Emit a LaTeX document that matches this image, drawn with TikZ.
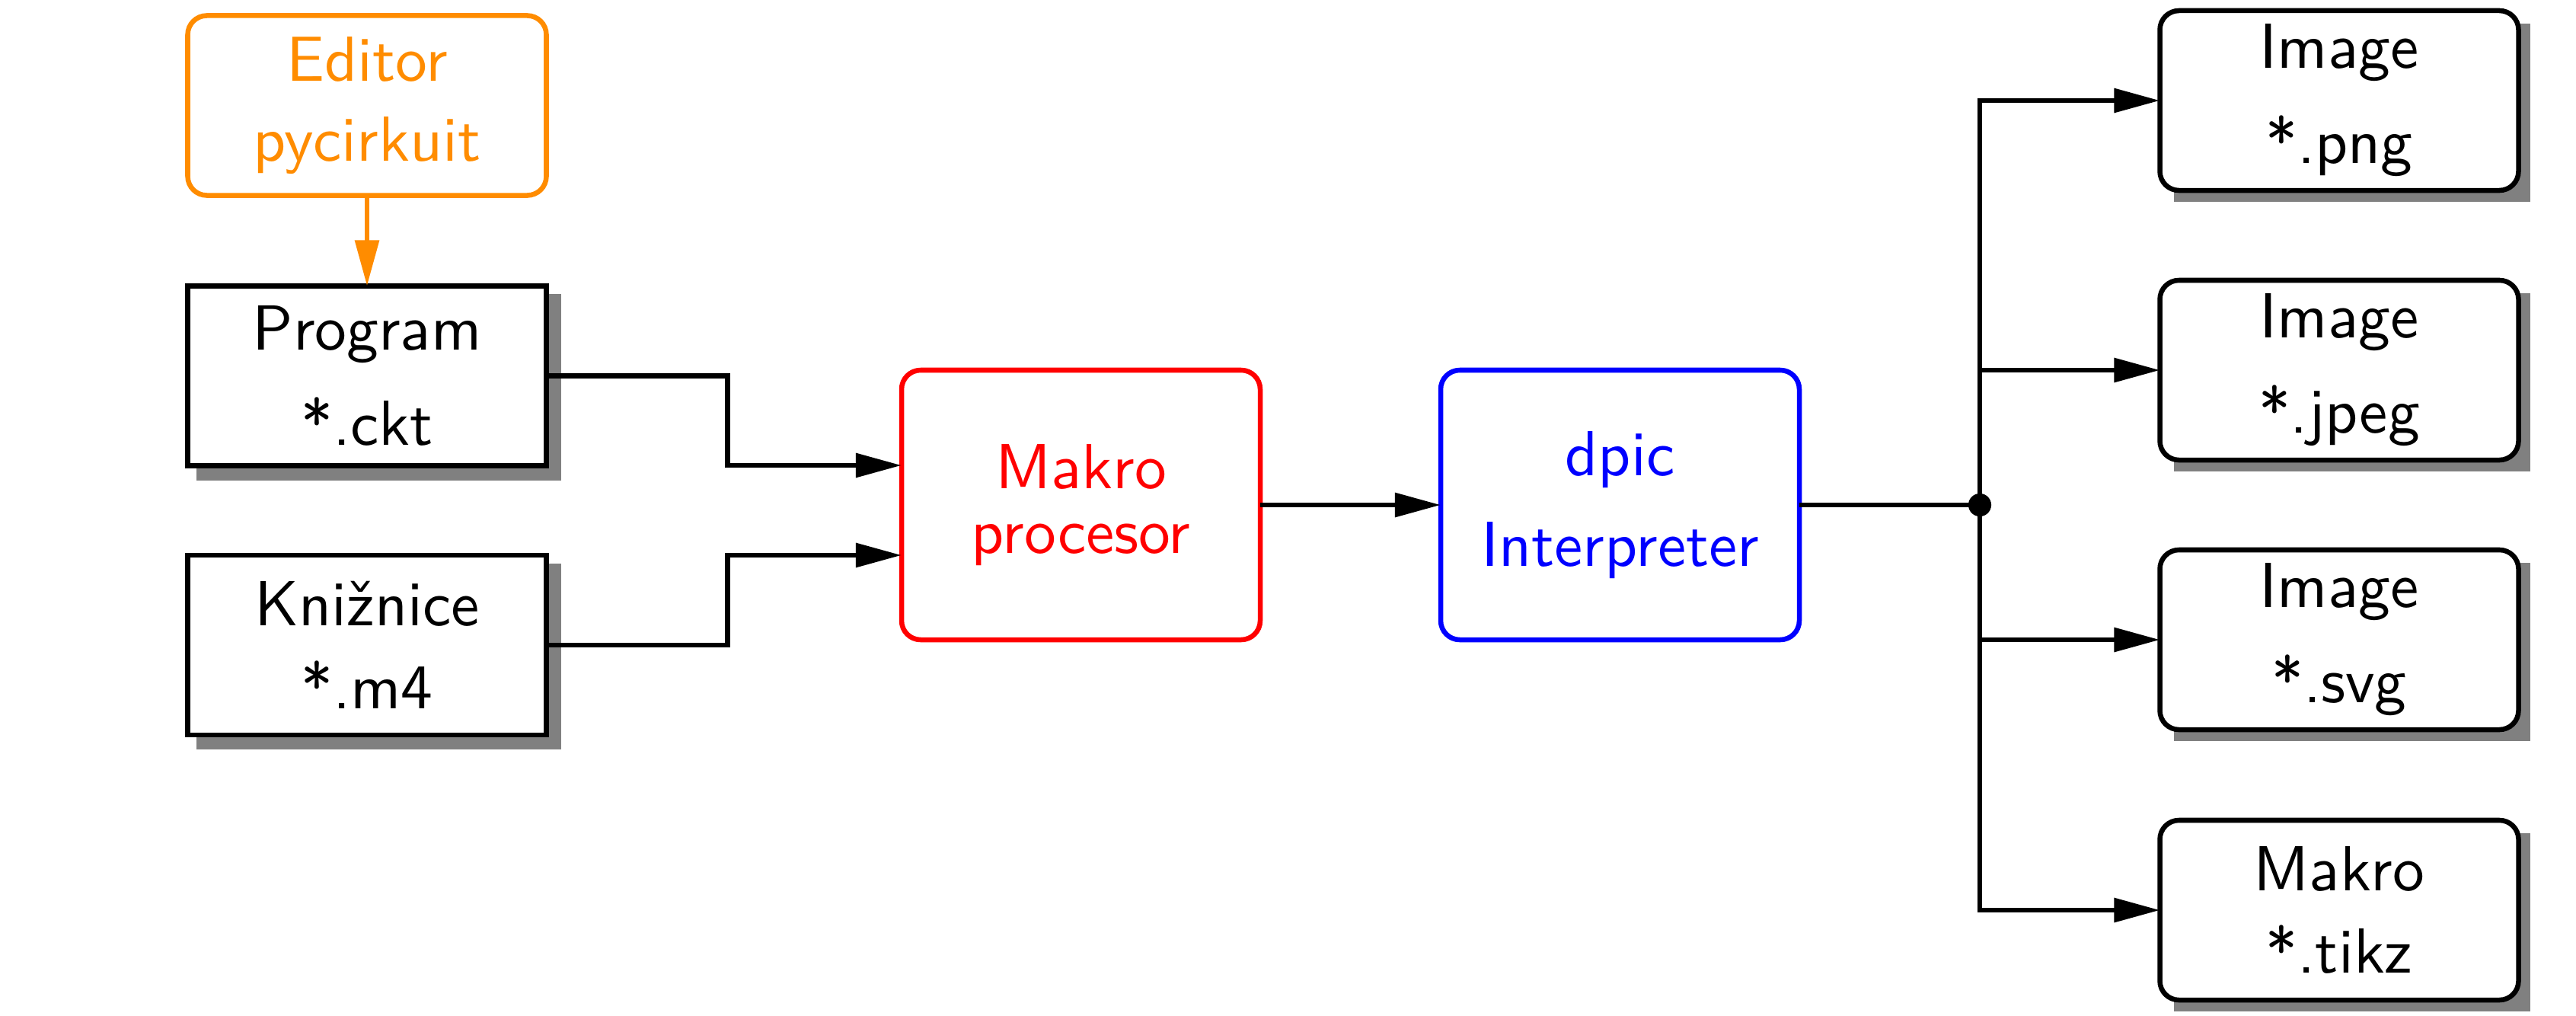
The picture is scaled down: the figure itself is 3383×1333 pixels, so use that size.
\documentclass[tikz,border=0pt]{standalone}
\usepackage{fontspec}
\usetikzlibrary{arrows.meta,backgrounds}
\definecolor{edorange}{RGB}{255,140,0}
\definecolor{shadowgray}{RGB}{128,128,128}
\newcommand\myboxfont{\sffamily\fontsize{10}{0}\selectfont\setlength{\lineskip}{5.4pt}\setlength{\lineskiplimit}{0pt}}
\begin{document}
\begin{tikzpicture}[x=0.1196pt,y=-0.1196pt,
  every node/.style={font=\myboxfont,
    align=center, inner sep=0pt, outer sep=0pt, line width=0.78pt, fill=white},
  sqbox/.style={draw, rectangle, minimum width=56.33pt, minimum height=28.23pt},
  rbox/.style={sqbox, rounded corners=3pt},
  bigbox/.style={draw, rectangle, rounded corners=3pt, minimum width=56.33pt, minimum height=42.34pt},
  conn/.style={draw, line width=0.78pt, -{Triangle[length=7.2pt,width=3.7pt]}},
  wire/.style={draw, line width=0.78pt},
  junction/.style={circle, fill=black, draw=none, minimum size=3.6pt, inner sep=0pt}]
\useasboundingbox (0,0) rectangle (3383,1333);

% left column
\node[rbox, draw=edorange, text=edorange] (editor) at (482,138.5) {Editor\\pycirkuit};
\node[sqbox] (prog) at (482,493.5) {Program\\*.ckt};
\node[sqbox] (lib) at (482,847) {Knižnice\\*.m4};

% middle
\node[bigbox, draw=red, text=red] (macro) at (1419.5,663) {Makro\\procesor};
\node[bigbox, draw=blue, text=blue] (dpic) at (2127.5,663) {dpic\\Interpreter};

% junction
\node[junction] (j) at (2600,663) {};

% outputs
\node[rbox] (out1) at (3072,132) {Image\\*.png};
\node[rbox] (out2) at (3072,486) {Image\\*.jpeg};
\node[rbox] (out3) at (3072,840) {Image\\*.svg};
\node[rbox] (out4) at (3072,1195) {Makro\\*.tikz};

% shadows
\begin{pgfonlayer}{background}
  \foreach \n in {prog,lib}{
    \fill[shadowgray] ([shift={(11,11)}]\n.north west) rectangle ([shift={(19,19)}]\n.south east);
  }
  \foreach \n in {out1,out2,out3,out4}{
    \fill[shadowgray] ([shift={(18,17)}]\n.north west) rectangle ([shift={(15,15)}]\n.south east);
  }
\end{pgfonlayer}

% connectors
\coordinate (m1) at ([yshift=6.22pt]macro.west);
\coordinate (m2) at ([yshift=-7.89pt]macro.west);
\draw[conn, edorange] (editor.south) -- (prog.north);
\draw[conn] (prog.east) -- ++(238,0) |- (m1);
\draw[conn] (lib.east) -- ++(238,0) |- (m2);
\draw[conn] (macro.east) -- (dpic.west);
\draw[wire] (dpic.east) -- (j.center);
\draw[conn] (j.center) |- (out1.west);
\draw[conn] (j.center |- out2.west) -- (out2.west);
\draw[conn] (j.center |- out3.west) -- (out3.west);
\draw[conn] (j.center) |- (out4.west);
\end{tikzpicture}
\end{document}
